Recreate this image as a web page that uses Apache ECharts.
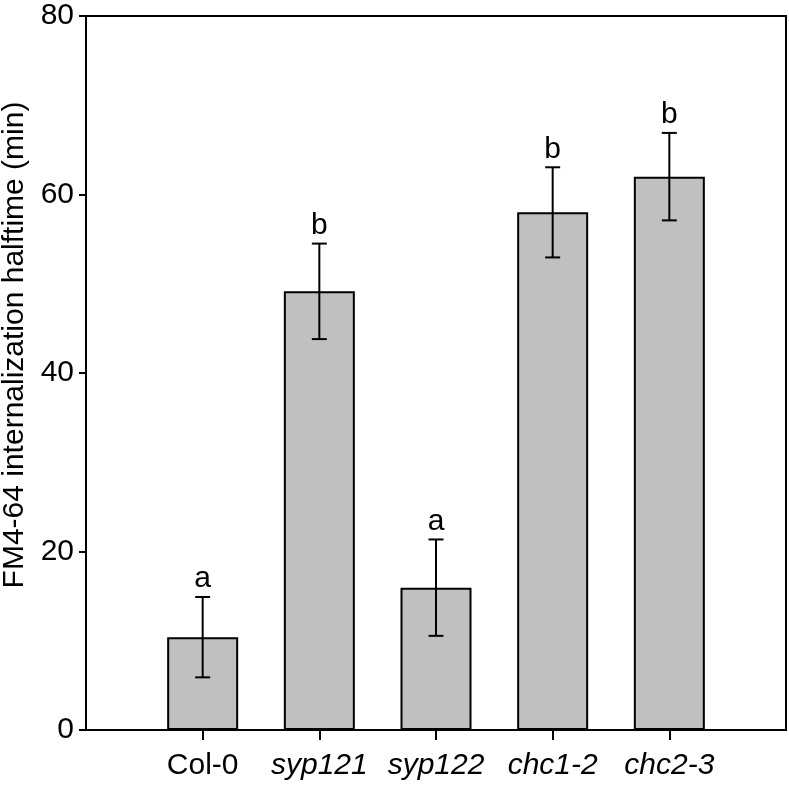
<!DOCTYPE html>
<html>
<head>
<meta charset="utf-8">
<script src="https://cdn.jsdelivr.net/npm/echarts@6/dist/echarts.min.js"></script>
<style>
html,body{margin:0;padding:0;background:#fff;}
#chart{width:789px;height:785px;}
</style>
</head>
<body>
<div id="chart"></div>
<script>
const categories = ['Col-0', 'syp121', 'syp122', 'chc1-2', 'chc2-3'];
const italicCats = [false, true, true, true, true];
const means = [10.4, 49.15, 15.95, 58.0, 62.0];
const errors = [4.5, 5.35, 5.4, 5.05, 4.9];
const letters = ['a', 'b', 'a', 'b', 'b'];
const yTicks = [0, 20, 40, 60, 80];

const FONT = 'Liberation Sans, Arial, sans-serif';
const FS = 30;
const LW = 2;
const axisCats = [''].concat(categories).concat(['']);
const barData = ['-'].concat(means).concat(['-']);
const errData = categories.map((c, i) => [i + 1, means[i] - errors[i], means[i] + errors[i], letters[i]]);

const chart = echarts.init(document.getElementById('chart'));
chart.setOption({
  animation: false,
  backgroundColor: '#fff',
  grid: { left: 86, right: 3, top: 16, bottom: 55, outerBoundsMode: 'none', containLabel: false, show: true, borderColor: '#000', borderWidth: LW, backgroundColor: 'transparent' },
  xAxis: {
    type: 'category',
    data: axisCats,
    boundaryGap: false,
    axisLine: { lineStyle: { color: '#000', width: LW } },
    axisTick: { show: true, length: 10, lineStyle: { color: '#000', width: LW }, interval: (idx) => idx > 0 && idx < axisCats.length - 1 },
    axisLabel: {
      interval: 0,
      margin: 21,
      formatter: (v) => {
        const i = categories.indexOf(v);
        if (i < 0) return '';
        return italicCats[i] ? '{it|' + v + '}' : '{n|' + v + '}';
      },
      rich: {
        it: { fontFamily: FONT, fontSize: FS, fontStyle: 'italic', color: '#000' },
        n: { fontFamily: FONT, fontSize: FS, color: '#000' }
      }
    },
    splitLine: { show: false }
  },
  yAxis: {
    type: 'value',
    min: yTicks[0],
    max: yTicks[yTicks.length - 1],
    interval: yTicks[1] - yTicks[0],
    name: 'FM4-64 internalization halftime (min)',
    nameLocation: 'middle',
    nameGap: 54,
    nameTextStyle: { fontFamily: FONT, fontSize: FS, color: '#000', padding: [0, 0, 0, 56] },
    axisLine: { show: true, lineStyle: { color: '#000', width: LW } },
    axisTick: { show: true, length: 7, lineStyle: { color: '#000', width: LW } },
    axisLabel: { margin: 12, fontFamily: FONT, fontSize: FS, color: '#000' },
    splitLine: { show: false }
  },
  series: [
    {
      type: 'bar',
      data: barData,
      barWidth: 71,
      itemStyle: { color: '#c0c0c0', borderColor: '#000', borderWidth: LW },
      z: 2
    },
    {
      type: 'custom',
      data: errData,
      z: 3,
      renderItem: (params, api) => {
        const x = api.value(0);
        const lo = api.coord([x, api.value(1)]);
        const hi = api.coord([x, api.value(2)]);
        const half = 7.5;
        const st = { stroke: '#000', lineWidth: LW };
        return {
          type: 'group',
          children: [
            { type: 'line', shape: { x1: lo[0], y1: lo[1], x2: hi[0], y2: hi[1] }, style: st },
            { type: 'line', shape: { x1: lo[0] - half, y1: lo[1], x2: lo[0] + half, y2: lo[1] }, style: st },
            { type: 'line', shape: { x1: hi[0] - half, y1: hi[1], x2: hi[0] + half, y2: hi[1] }, style: st },
            { type: 'text', style: { text: api.value(3), x: hi[0], y: hi[1] - 3, textAlign: 'center', textVerticalAlign: 'bottom', font: FS + 'px ' + FONT, fill: '#000' } }
          ]
        };
      }
    }
  ]
});
</script>
</body>
</html>
